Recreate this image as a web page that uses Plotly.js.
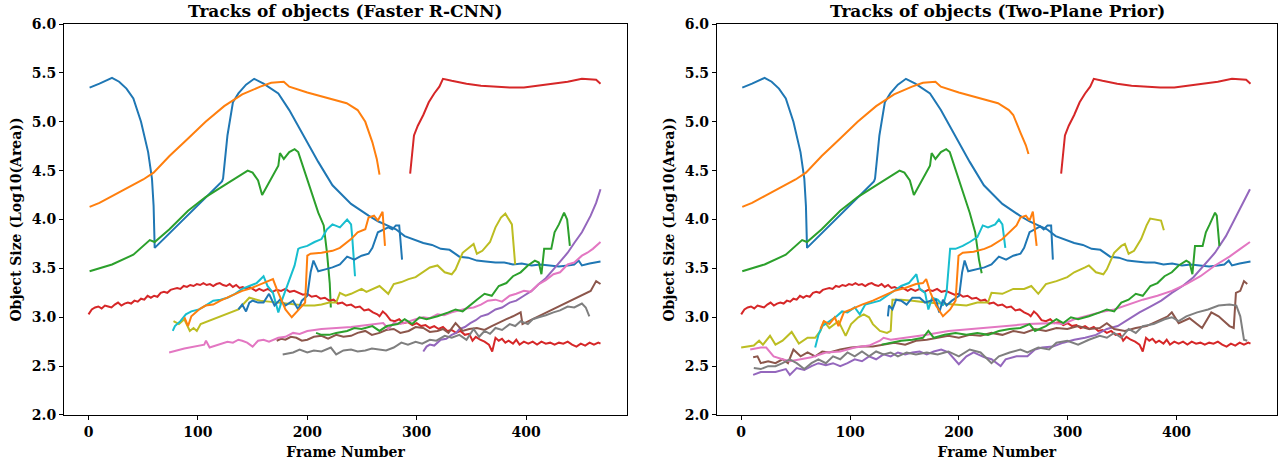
<!DOCTYPE html>
<html>
<head>
<meta charset="utf-8">
<script src="https://cdn.plot.ly/plotly-3.0.1.min.js"></script>
<style>html,body{margin:0;padding:0;background:#fff;}#chart{width:1280px;height:463px;}</style>
</head>
<body>
<div id="chart"></div>
<script>
// ---------- shared tracks ----------
const blue1X = [1,10,21.5,28,34.7,41,48,54.5,58,59.5,60.5,122,123,127,132,137,144,151.4,160,173.5,183.5,196.7,210,223,240,256,265,273,281,289,297,306,314,322,330,339,347,355,363,372,380,388,396,405,413,421.5,430,438,444,448,451,458,464,468];
const blue1Y = [5.35,5.39,5.45,5.41,5.34,5.24,5.0,4.69,4.42,4.14,3.71,4.39,4.42,4.86,5.2,5.29,5.38,5.44,5.39,5.29,5.12,4.86,4.59,4.35,4.16,4.04,3.98,3.94,3.90,3.83,3.80,3.76,3.74,3.70,3.69,3.62,3.61,3.58,3.57,3.56,3.56,3.54,3.55,3.53,3.54,3.53,3.52,3.53,3.54,3.58,3.53,3.55,3.56,3.57];

const orange1X = [1,10,21.5,30,41,50,59.5,74,91,107,124,140.5,157,167,178.5,183.5,200,220,236,246];
const orange1Y = [4.13,4.17,4.24,4.29,4.35,4.41,4.48,4.65,4.83,5.0,5.16,5.28,5.36,5.40,5.41,5.36,5.30,5.24,5.19,5.12];
const orange1TailLX = [253,259.5,263.5,266];
const orange1TailLY = [5.0,4.79,4.62,4.46];
const orange1TailRX = [250,256.6,261.6,264];
const orange1TailRY = [5.07,4.89,4.76,4.67];

const green1X = [1,21.5,41,56,60.5,74,91,107,124,140.5,145.5,150,155,158.7,167,173.5,175,178.5,183.5,188.4,191.7,196.7,203,210];
const green1Y = [3.47,3.54,3.64,3.79,3.77,3.90,4.09,4.23,4.35,4.47,4.50,4.48,4.40,4.25,4.42,4.55,4.68,4.62,4.69,4.72,4.69,4.52,4.31,4.07];
const green1TailLX = [215,218,220.5,221.5];
const green1TailLY = [3.94,3.66,3.35,3.10];
const green1TailRX = [215,218.5,221];
const green1TailRY = [3.87,3.59,3.45];

const red1X = [0,3,6,9,12,15,18,21,24,27,30,33,36,39,42,45,48,51,54,57,60,63,66,69,72,75,78,81,84,87,90,93,96,99,102,105,108,111,114,117,120,123,126,129,132,135,138,141,144,147,150,153,156,160,164,168,172,176,180,184,188,192,196,200,204,208,212,216,220,224,228,232,236,240,244,248,252,256,260,264,266,269,272,276,280,284,288,292,296,300,304,308,312,316,320,324,328,332,336,340,344,348,351,354,358,362,366,369,372,375,378,381,384,388,391,394,398,402,406,410,414,418,422,426,430,434,438,442,446,450,454,458,462,466,468];
const red1Y = [3.03,3.08,3.10,3.11,3.09,3.12,3.11,3.10,3.13,3.15,3.12,3.14,3.15,3.14,3.17,3.16,3.19,3.18,3.22,3.20,3.22,3.21,3.25,3.26,3.25,3.28,3.29,3.30,3.29,3.32,3.31,3.33,3.32,3.34,3.33,3.35,3.33,3.34,3.32,3.34,3.35,3.33,3.32,3.34,3.31,3.33,3.30,3.31,3.29,3.31,3.29,3.27,3.29,3.27,3.29,3.26,3.28,3.27,3.29,3.26,3.27,3.25,3.23,3.24,3.21,3.22,3.19,3.20,3.17,3.18,3.14,3.15,3.12,3.13,3.10,3.11,3.07,3.08,3.05,3.03,3.01,3.06,3.03,2.97,2.96,2.98,2.94,2.95,2.92,2.94,2.91,2.92,2.89,2.91,2.88,2.90,2.86,2.87,2.84,2.86,2.82,2.83,2.76,2.80,2.77,2.75,2.72,2.65,2.79,2.76,2.78,2.74,2.76,2.73,2.77,2.72,2.75,2.73,2.75,2.72,2.75,2.73,2.74,2.72,2.74,2.73,2.75,2.72,2.70,2.73,2.71,2.74,2.72,2.74,2.73];

const red2X = [294,297.5,301,306,311,316,320.7,324,332,345.5,358.7,372,385,398,411.6,425,438,451,464,468];
const red2Y = [4.47,4.86,4.96,5.07,5.20,5.29,5.36,5.44,5.42,5.39,5.37,5.36,5.35,5.35,5.37,5.39,5.41,5.44,5.43,5.39];

// ---------- Faster R-CNN only ----------
const fPurpleX = [306,309,312,316,322,327,332,336,339,344,349,354,358.7,365,372,378,385,391,398,405,411.6,418,425,431,438,444,451,459,464,468];
const fPurpleY = [2.65,2.70,2.72,2.71,2.77,2.78,2.82,2.84,2.88,2.90,2.94,2.97,3.01,3.03,3.08,3.10,3.15,3.17,3.22,3.27,3.34,3.40,3.49,3.57,3.66,3.76,3.87,4.04,4.17,4.31];

const fBrownX = [172,176,180,185,190,195,200,206,213,219,226.4,233,240,246,253,259,266,272,279,285,292.6,299,306,312,319,324,329,335.5,342,348,355,362,368.6,375,382,388,395,396.7,411.6,425,438,451,459,464,468];
const fBrownY = [2.76,2.78,2.77,2.80,2.79,2.76,2.77,2.80,2.81,2.78,2.82,2.80,2.81,2.84,2.86,2.82,2.84,2.87,2.88,2.84,2.86,2.90,2.89,2.85,2.86,2.88,2.84,2.94,2.86,2.88,2.89,2.87,2.91,2.94,2.98,3.01,3.05,2.93,3.01,3.08,3.15,3.22,3.27,3.37,3.34];

const fPinkX = [73.7,87.6,105.8,107.4,110.7,127,132,137,140.5,145,150,155,160,165,173.5,180,187,193,200,213,240,269.4,274,279,285,292.6,299,306,312,319,325,332,338,345.5,352,358.7,365,372,378,385,391,398,404,411.6,418,425,431,438,444,451,456,461,468];
const fPinkY = [2.64,2.68,2.72,2.76,2.69,2.75,2.74,2.77,2.76,2.74,2.70,2.76,2.77,2.75,2.79,2.80,2.84,2.83,2.86,2.88,2.90,2.94,2.88,2.94,2.93,2.96,2.98,3.00,2.99,3.03,3.02,3.05,3.07,3.09,3.10,3.13,3.17,3.18,3.16,3.22,3.24,3.27,3.26,3.34,3.38,3.44,3.46,3.54,3.56,3.63,3.66,3.70,3.77];

const fGrayX = [177.5,183,187,193,200,206,213,221.5,226.4,233,240,246,253,259,266,272,279,286,292,299,305,312,318,325.6,332,339,345.5,352,357,362,367,372,378,385,390,395,401.6,406,411.6,418,425,431,438,444,451,454.5,457.8];
const fGrayY = [2.62,2.63,2.64,2.67,2.64,2.66,2.65,2.69,2.62,2.66,2.67,2.65,2.66,2.68,2.67,2.66,2.69,2.74,2.72,2.75,2.73,2.77,2.76,2.81,2.79,2.82,2.77,2.88,2.80,2.86,2.83,2.89,2.87,2.93,2.91,2.96,2.93,2.98,3.00,3.02,3.05,3.07,3.11,3.10,3.14,3.10,3.01];

const fOliveX = [77.7,82.6,87.6,92.6,96,99,102.5,137,147,157,165,173.5,182,190,198,206.6,213,220,226.4,229.8,235,240,245,249.6,254,259.5,266,274,279,286,292.6,299,306,312,319,325.6,332,335.5,342,349,352,355,360,367,372,377,381,387,390];
const fOliveY = [2.96,2.93,2.98,2.86,2.89,2.86,2.93,3.08,3.20,3.17,3.16,3.15,3.14,3.13,3.12,3.12,3.13,3.15,3.15,3.25,3.22,3.24,3.27,3.29,3.26,3.29,3.32,3.24,3.34,3.36,3.39,3.41,3.46,3.51,3.53,3.46,3.44,3.49,3.66,3.73,3.75,3.65,3.68,3.77,3.92,4.02,4.06,3.95,3.54];

const fCyanX = [77,79,84,89,94,101,107,114,120.7,127,134,140.5,147,153.7,160,163.6,168.6,173.5,177,183.5,188.4,191.7,193.4,200,206.6,213,218,223,229.8,236.4,240,241,243.6];
const fCyanY = [2.86,2.91,2.96,3.03,3.06,3.08,3.12,3.17,3.18,3.20,3.24,3.29,3.32,3.35,3.42,3.32,3.25,3.05,3.18,3.39,3.53,3.70,3.71,3.73,3.77,3.80,3.90,3.95,3.92,4.00,3.95,3.83,3.42];

const fBlue2X = [137,140.5,144,147,150,155,160,165,170,175,180,187,191.7,195,200,203,205.6,210,216.5,223,229.8,236.4,243,249.6,256,259.5,264.5,269.4,274,277.7,281,284,286.6];
const fBlue2Y = [3.08,3.13,3.06,3.15,3.17,3.15,3.15,3.24,3.12,3.18,3.12,3.17,3.08,3.17,3.22,3.46,3.58,3.47,3.49,3.51,3.54,3.62,3.59,3.63,3.65,3.71,3.87,3.90,3.92,3.90,3.94,3.94,3.59];

const fOrange2X = [87.6,91,94,101,107,114,120.7,127,134,140.5,147,153.7,160,165,168.6,172,177,180,185.8,190,195,198,200,203,213,223,229.8,240,246,253,256,261,264.5,268.8,271];
const fOrange2Y = [3.0,2.91,3.01,3.08,3.12,3.13,3.17,3.20,3.24,3.27,3.29,3.32,3.35,3.37,3.39,3.29,3.15,3.08,3.00,3.05,3.12,3.15,3.63,3.65,3.66,3.68,3.71,3.80,3.87,3.90,4.02,4.04,3.99,4.08,3.73];

const fGreen2X = [208,213,220,226.4,236.4,243,249.6,259.5,266,272.7,282.6,289,295.9,302.5,309,319,329,335.5,342,349,355,362,368.6,375,382,388,395,401.6,408,411.6,414,416.5,423,426,430,434.7,437.5,440];
const fGreen2Y = [2.84,2.82,2.82,2.84,2.86,2.89,2.88,2.91,2.86,2.91,2.93,2.98,2.93,3.00,2.98,3.01,3.05,3.08,3.06,3.13,3.18,3.24,3.22,3.32,3.35,3.42,3.46,3.53,3.58,3.56,3.44,3.70,3.70,3.87,3.95,4.07,4.00,3.73];

// ---------- Two-Plane Prior only ----------
const tPurpleX = [11,18,31.5,41,44.7,51,58,64.6,71,77.8,84.4,91,97.7,104.3,111,117.5,124,130.8,137.4,144,150.7,157.3,164,170.5,177,183.8,190.4,200,207,213.6,223.5,230,238.4,243,253,263,270,276.5,286.4,296,306,316,326,336,346,356,366,376,386,395.7,405.6,415.6,425.5,435.4,445.4,455,462,467.5];
const tPurpleY = [2.41,2.44,2.44,2.47,2.41,2.48,2.46,2.50,2.53,2.51,2.53,2.50,2.53,2.57,2.55,2.60,2.57,2.62,2.60,2.64,2.62,2.64,2.65,2.62,2.65,2.67,2.64,2.52,2.60,2.64,2.59,2.57,2.50,2.57,2.60,2.60,2.67,2.69,2.70,2.74,2.77,2.79,2.82,2.88,2.91,2.98,3.05,3.11,3.17,3.25,3.32,3.41,3.53,3.66,3.83,4.04,4.18,4.31];

const tBrownX = [11,15,18,24.8,31.5,38,43,48,54.6,61,68,74.5,81,91,101,111,121,130.8,140.7,150.7,160.6,170.5,180.5,190.4,200,210,220,230,240,250,260,270,280,289.7,299.7,309.6,319.5,329.5,336,342.7,352.6,362.6,372.5,382.5,392,395.7,402,412,423.5,432,438.7,448.7,452.6,454.6,458.6,462,465];
const tBrownY = [2.59,2.60,2.53,2.55,2.53,2.57,2.53,2.67,2.60,2.64,2.60,2.65,2.64,2.67,2.69,2.70,2.70,2.72,2.74,2.72,2.76,2.77,2.79,2.81,2.79,2.82,2.81,2.84,2.82,2.86,2.84,2.88,2.86,2.89,2.88,2.91,2.88,2.89,2.94,2.88,2.86,2.89,2.91,2.96,3.01,3.05,2.94,2.99,2.89,3.05,3.01,2.91,2.89,3.25,3.27,3.37,3.34];

const tPinkX = [8.3,18,23,29.8,38,44.7,54.6,64.6,77.8,91,104.3,117.5,127.5,130.8,137.4,150.7,170.5,190.4,210,236.8,263,286.4,296,306,316,329.5,342.7,356,369,382.5,395.7,409,422,435.4,448.7,458.6,467.5];
const tPinkY = [2.67,2.69,2.69,2.60,2.57,2.55,2.57,2.59,2.64,2.65,2.69,2.71,2.76,2.79,2.77,2.79,2.82,2.86,2.88,2.91,2.93,2.94,2.93,2.98,3.01,3.05,3.08,3.13,3.18,3.22,3.27,3.34,3.42,3.53,3.62,3.70,3.77];

const tGrayX = [11.6,18,24.8,31.5,38,44.7,51,58,64.6,71,77.8,84.4,91,97.7,104.3,111,117.5,124,130.8,137.4,144,152,160.6,170.5,180.5,190.4,200,210,220,230,236.8,246.7,256.6,263,273,283,289.7,299.7,309.6,319.5,329.5,336,342.7,349.3,356,362.6,369,379,389,395.7,402,409,419,429,438.7,448.7,455,458.6,462,465];
const tGrayY = [2.48,2.47,2.50,2.50,2.53,2.57,2.53,2.47,2.53,2.57,2.53,2.60,2.57,2.64,2.60,2.65,2.60,2.65,2.62,2.64,2.60,2.64,2.62,2.64,2.62,2.65,2.60,2.67,2.64,2.53,2.60,2.64,2.67,2.64,2.69,2.67,2.74,2.76,2.72,2.77,2.81,2.79,2.84,2.79,2.88,2.84,2.91,2.93,2.98,3.00,2.96,3.01,3.05,3.08,3.12,3.13,3.12,3.01,2.77,2.76];

const tOliveX = [0,5,11.6,16.5,20,26.5,31.5,38,46.4,53,61,68,72.8,76,81,89.4,92.7,96,101,107.6,112.6,117.5,121,127.5,134,137.4,139,147,157.3,170.5,183.8,197,207,217,226.8,230,240,250,260,266.6,273,280,289.7,299.7,306,316,319.5,326,332.8,336,342.7,349.3,352.6,356,361,367.5,372.5,375.8,382.5,385.8,388.4];
const tOliveY = [2.69,2.70,2.71,2.76,2.72,2.81,2.72,2.76,2.85,2.73,2.79,2.79,2.86,2.96,2.89,2.96,2.89,2.81,2.93,3.00,3.03,3.00,2.93,2.86,2.84,2.86,3.18,3.18,3.17,3.15,3.14,3.13,3.12,3.15,3.15,3.25,3.24,3.29,3.29,3.32,3.24,3.34,3.37,3.41,3.46,3.51,3.53,3.46,3.44,3.49,3.66,3.73,3.75,3.65,3.68,3.80,3.94,4.01,4.00,3.99,3.89];

const tCyanX = [68,71,74.5,81,87.7,92.7,97.7,104.3,109,114,121,127.5,134,140.7,147,154,159,161,164,169,172,175.5,180.5,185.4,188.7,192,197,203.6,210,217,222,226.8,233.4,236.8,240,242.7];
const tCyanY = [2.69,2.82,2.91,2.96,3.01,3.06,3.05,3.10,3.03,3.13,3.15,3.17,3.22,3.27,3.32,3.35,3.41,3.44,3.29,3.25,3.08,3.20,3.18,3.12,3.25,3.70,3.70,3.73,3.77,3.82,3.94,3.92,3.95,4.00,3.95,3.71];

const tOrange2X = [72.8,76,81,86,89.4,94.4,101,111,121,130.8,140.7,150.7,160.6,167,170,174,179,185.4,192,197,199.7,203.6,213.6,223.5,230,240,246.7,253,256.6,261.6,265,268,271.5];
const tOrange2Y = [2.88,2.96,2.93,3.00,2.91,3.05,3.08,3.13,3.17,3.22,3.27,3.30,3.34,3.35,3.39,3.25,3.12,3.01,3.08,3.17,3.63,3.66,3.67,3.70,3.73,3.80,3.87,3.94,4.02,4.04,3.99,4.08,3.73];

const tBlue2X = [134.8,135.8,139,142.4,147,152,157.3,164,169,174,179,182,185.4,188.7,193.7,200.3,203,205.3,208.6,217,223.5,230,236.8,243.4,250,256.6,260,265,270,274.8,278,281.5,284.8,286.4];
const tBlue2Y = [3.01,3.12,3.08,3.18,3.17,3.13,3.20,3.20,3.15,3.17,3.18,3.05,3.18,3.12,3.17,3.22,3.46,3.58,3.47,3.49,3.51,3.54,3.62,3.59,3.63,3.65,3.71,3.87,3.90,3.93,3.90,3.94,3.94,3.59];

const tGreen2X = [129,137.4,147,157.3,167,172,177,187,197,207,217,226.8,236.8,246.7,256.6,265,270,280,289.7,296,303,309.6,319.5,329.5,336,342.7,349.3,356,362.6,369,376,382.5,389,395.7,402,409,412,414.6,417,424,427,430.5,435.4,437,439.4];
const tGreen2Y = [2.72,2.74,2.76,2.77,2.79,2.86,2.79,2.82,2.84,2.82,2.84,2.82,2.86,2.88,2.89,2.93,2.86,2.91,2.98,2.94,3.00,2.98,3.01,3.05,3.08,3.06,3.15,3.18,3.24,3.22,3.32,3.35,3.42,3.46,3.53,3.58,3.56,3.44,3.73,3.73,3.87,3.95,4.07,4.04,3.73];

// ---------- styling ----------
const C = ['#1f77b4','#ff7f0e','#2ca02c','#d62728','#9467bd','#8c564b','#e377c2','#7f7f7f','#bcbd22','#17becf'];
const xTicks = [0,100,200,300,400];
const yTicks = [2.0,2.5,3.0,3.5,4.0,4.5,5.0,5.5,6.0];
const titles = ['Tracks of objects (Faster R-CNN)','Tracks of objects (Two-Plane Prior)'];

function tr(x, y, color, ax) {
  return {x: x, y: y, type: 'scatter', mode: 'lines', xaxis: ax[0], yaxis: ax[1],
          line: {color: color, width: 2}, hoverinfo: 'skip', showlegend: false};
}
const L = ['x','y'], R = ['x2','y2'];
const data = [
  tr(blue1X, blue1Y, C[0], L),
  tr(orange1X.concat(orange1TailLX), orange1Y.concat(orange1TailLY), C[1], L),
  tr(green1X.concat(green1TailLX), green1Y.concat(green1TailLY), C[2], L),
  tr(red1X, red1Y, C[3], L),
  tr(fPurpleX, fPurpleY, C[4], L),
  tr(fBrownX, fBrownY, C[5], L),
  tr(fPinkX, fPinkY, C[6], L),
  tr(fGrayX, fGrayY, C[7], L),
  tr(fOliveX, fOliveY, C[8], L),
  tr(fCyanX, fCyanY, C[9], L),
  tr(fBlue2X, fBlue2Y, C[0], L),
  tr(fOrange2X, fOrange2Y, C[1], L),
  tr(fGreen2X, fGreen2Y, C[2], L),
  tr(red2X, red2Y, C[3], L),

  tr(blue1X, blue1Y, C[0], R),
  tr(orange1X.concat(orange1TailRX), orange1Y.concat(orange1TailRY), C[1], R),
  tr(green1X.concat(green1TailRX), green1Y.concat(green1TailRY), C[2], R),
  tr(red1X, red1Y, C[3], R),
  tr(tPurpleX, tPurpleY, C[4], R),
  tr(tBrownX, tBrownY, C[5], R),
  tr(tPinkX, tPinkY, C[6], R),
  tr(tGrayX, tGrayY, C[7], R),
  tr(tOliveX, tOliveY, C[8], R),
  tr(tCyanX, tCyanY, C[9], R),
  tr(tBlue2X, tBlue2Y, C[0], R),
  tr(tOrange2X, tOrange2Y, C[1], R),
  tr(tGreen2X, tGreen2Y, C[2], R),
  tr(red2X, red2Y, C[3], R)
];

const F = 'DejaVu Serif, serif';
const tickFont = {family: F, size: 14, color: '#000', weight: 'bold'};
const axTitleFont = {family: F, size: 14, color: '#000', weight: 'bold'};
function xax(domain, anchor) {
  return {domain: domain, anchor: anchor, range: [-22.4, 492.4], tickmode: 'array', tickvals: xTicks,
    ticktext: xTicks.map(String), showgrid: false, zeroline: false, showline: true, mirror: true,
    linecolor: '#000', linewidth: 1, ticks: 'outside', ticklen: 4, tickcolor: '#000', tickfont: tickFont,
    title: {text: 'Frame Number', font: axTitleFont, standoff: 8}, automargin: false};
}
function yax(anchor) {
  return {domain: [0.1037, 0.948], anchor: anchor, range: [2, 6], tickmode: 'array', tickvals: yTicks,
    ticktext: yTicks.map(v => v.toFixed(1)), showgrid: false, zeroline: false, showline: true, mirror: true,
    linecolor: '#000', linewidth: 1, ticks: 'outside', ticklen: 4, tickcolor: '#000', tickfont: tickFont,
    title: {text: 'Object Size (Log10(Area))', font: axTitleFont, standoff: 6}, automargin: false};
}
const layout = {
  width: 1280, height: 463, margin: {l: 0, r: 0, t: 0, b: 0, autoexpand: false},
  paper_bgcolor: '#fff', plot_bgcolor: '#fff',
  xaxis: xax([0.05, 0.49], 'y'),
  yaxis: yax('x'),
  xaxis2: xax([0.56, 0.9977], 'y2'),
  yaxis2: yax('x2'),
  annotations: [
    {text: titles[0], x: 0.27, y: 0.976, xref: 'paper', yref: 'paper', showarrow: false,
     xanchor: 'center', yanchor: 'middle', font: {family: F, size: 17, color: '#000', weight: 'bold'}},
    {text: titles[1], x: 0.779, y: 0.976, xref: 'paper', yref: 'paper', showarrow: false,
     xanchor: 'center', yanchor: 'middle', font: {family: F, size: 17, color: '#000', weight: 'bold'}}
  ]
};
Plotly.newPlot('chart', data, layout, {staticPlot: true, displayModeBar: false});
</script>
</body>
</html>
